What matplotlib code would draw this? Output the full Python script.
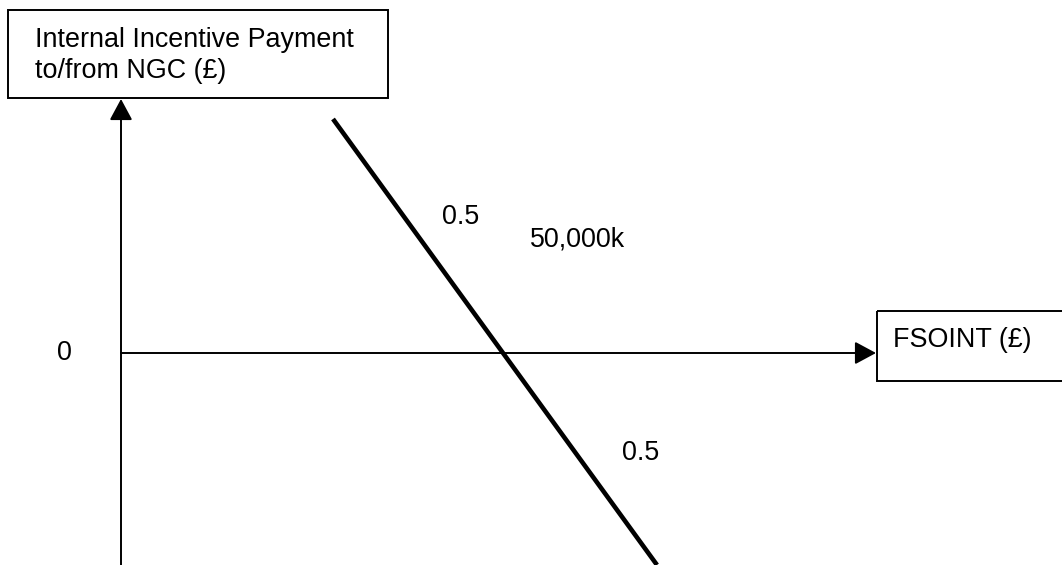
import matplotlib.pyplot as plt
from matplotlib.patches import Rectangle

# schematic diagram, coordinates in pixel-like units (y down)
y_title = ["Internal Incentive Payment", "to/from NGC (£)"]
x_title = "FSOINT (£)"
zero_label = "0"
threshold_label = "50,000k"
slope_labels = ["0.5", "0.5"]

# sharing line end points
line_x = [333, 657]
line_y = [119, 565]

# axes origin / extents
origin = (121, 353)
x_axis_end = 876
y_axis_end = 99

plt.rcParams['font.family'] = ['Liberation Sans', 'DejaVu Sans']
fs = 19.4
arrow_style = '-|>,head_length=0.65,head_width=0.35'

fig = plt.figure(figsize=(10.62, 5.65), dpi=100)
ax = fig.add_axes([0, 0, 1, 1])
ax.set_xlim(0, 1062)
ax.set_ylim(565, 0)
ax.axis('off')

# axes with arrowheads
ax.plot([origin[0], origin[0]], [565, y_axis_end + 10], color='black', lw=1.4)
ax.annotate('', xy=(origin[0], y_axis_end), xytext=(origin[0], y_axis_end + 20),
            arrowprops=dict(arrowstyle=arrow_style, color='black', lw=1.4,
                            mutation_scale=20, shrinkA=0, shrinkB=0))
ax.plot([origin[0], x_axis_end - 10], [origin[1], origin[1]], color='black', lw=1.4)
ax.annotate('', xy=(x_axis_end, origin[1]), xytext=(x_axis_end - 20, origin[1]),
            arrowprops=dict(arrowstyle=arrow_style, color='black', lw=1.4,
                            mutation_scale=20, shrinkA=0, shrinkB=0))

# incentive line
ax.plot(line_x, line_y, color='black', lw=3.3, solid_capstyle='butt')

# label boxes
ax.add_patch(Rectangle((8, 10), 380, 88, fill=False, ec='black', lw=1.4))
ax.text(35, 47, y_title[0], fontsize=fs, va='baseline', ha='left')
ax.text(35, 78, y_title[1], fontsize=fs, va='baseline', ha='left')
ax.add_patch(Rectangle((877, 311), 200, 70, fill=False, ec='black', lw=1.4,
                       clip_on=False))
ax.text(893, 347, x_title, fontsize=fs, va='baseline', ha='left')

# annotations
ax.text(57, 360, zero_label, fontsize=fs, va='baseline', ha='left')
ax.text(530, 247, threshold_label, fontsize=fs, va='baseline', ha='left')
ax.text(442, 224, slope_labels[0], fontsize=fs, va='baseline', ha='left')
ax.text(622, 460, slope_labels[1], fontsize=fs, va='baseline', ha='left')

plt.savefig('out.png', dpi=100)
